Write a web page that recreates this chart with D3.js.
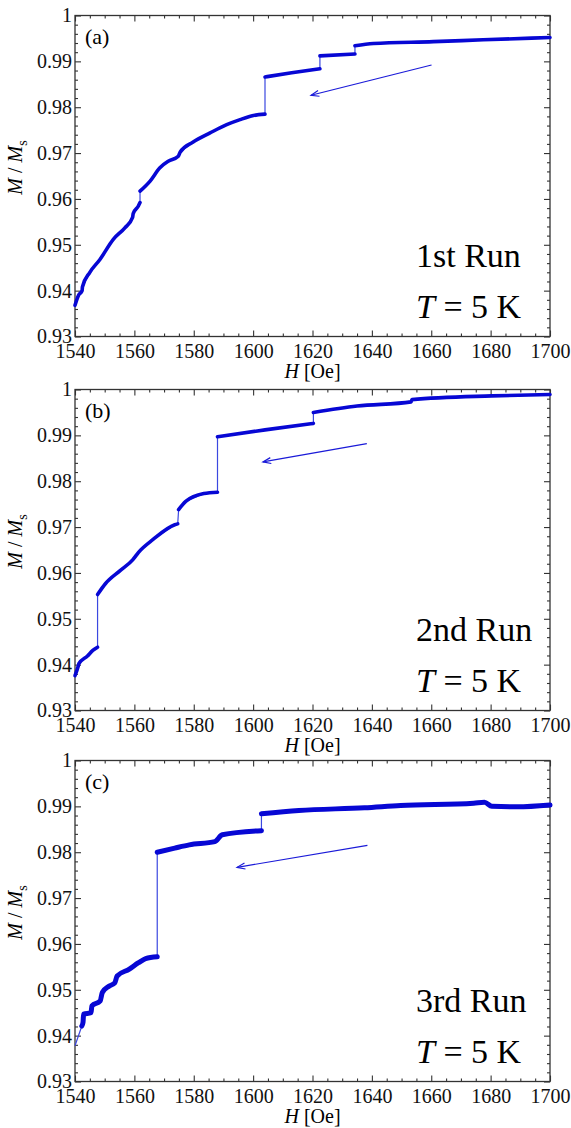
<!DOCTYPE html>
<head>
    <meta charset="utf-8">
    <script src="https://d3js.org/d3.v7.min.js"></script>
    <style>
        body {
            margin: 0;
            background: #fff;
        }
        .tick line {
            stroke: #333;
            stroke-width: 1.1px;
        }
        .frame {
            fill: none;
            stroke: #333;
            stroke-width: 1.3px;
        }
        .thin {
            fill: none;
            stroke: #3b48e0;
            stroke-width: 1.2px;
        }
        .thick {
            fill: none;
            stroke: #0707d4;
            stroke-linejoin: round;
            stroke-linecap: round;
        }
        .arrow {
            stroke: #1a1ad8;
            stroke-width: 1.2px;
            fill: none;
        }
    </style>
</head>

<body>
<div id="vis"></div>

<script>
    var W = 571, H = 1128;
    var margin = {left: 75},
        width = 475,
        height = 321;
    var serif = "'Liberation Serif', 'Times New Roman', Times, 'DejaVu Serif', serif";

    var panelTops = [15.5, 389.5, 760.5];

    // tick labels
    var xMajor = [1540, 1560, 1580, 1600, 1620, 1640, 1660, 1680, 1700];
    var yMajor = [0.93, 0.94, 0.95, 0.96, 0.97, 0.98, 0.99, 1];

    var panelTags = ["(a)", "(b)", "(c)"];
    var runNames = ["1st Run", "2nd Run", "3rd Run"];

    ////////// data: segments of [H, M/Ms], jumps between segments //////////

    var run1 = [
        [[1540, 0.9368], [1541.2, 0.9390], [1542.4, 0.9400], [1542.5, 0.9408], [1545, 0.9440],
         [1548.4, 0.9468], [1552.9, 0.9512], [1556.8, 0.9537], [1559.4, 0.9560], [1559.6, 0.9568],
         [1561.3, 0.9584], [1561.9, 0.9592]],
        [[1561.9, 0.9617], [1565.3, 0.9639], [1568.6, 0.9668], [1571.4, 0.9682], [1574.8, 0.9693],
         [1575.4, 0.9702], [1579.8, 0.9724], [1585.5, 0.9744], [1591.1, 0.9762], [1595.6, 0.9773],
         [1600.1, 0.9782], [1604, 0.9785]],
        [[1604, 0.9866], [1613, 0.9875], [1622.5, 0.9884]],
        [[1622.5, 0.9912], [1634.3, 0.9916]],
        [[1634.3, 0.9934], [1640.5, 0.9939], [1660.7, 0.9943], [1677.5, 0.9947], [1700, 0.9952]]
    ];

    var run2 = [
        [[1540, 0.9376], [1541.1, 0.9397], [1541.3, 0.9402], [1544.2, 0.9419], [1546, 0.9431],
         [1547.6, 0.9438]],
        [[1547.6, 0.9553], [1550.3, 0.9577], [1555.2, 0.9605], [1559.5, 0.9629], [1561.4, 0.9645],
         [1566.3, 0.9673], [1573.6, 0.9705], [1574.6, 0.9707]],
        [[1574.9, 0.9738], [1577.3, 0.9756], [1583.4, 0.9773], [1588, 0.9776]],
        [[1588, 0.9897], [1604, 0.9912], [1620.3, 0.9926]],
        [[1620.3, 0.9950], [1635, 0.9964], [1653.2, 0.9973], [1653.5, 0.9978], [1680.4, 0.9986],
         [1700, 0.9989]]
    ];

    var run3 = [
        [[1540, 0.9378]],
        [[1542.3, 0.9421], [1542.7, 0.9429], [1542.9, 0.9447], [1545.4, 0.9450], [1545.7, 0.9465],
         [1548.5, 0.9476], [1549.2, 0.9494], [1551.5, 0.9508], [1553.4, 0.9515], [1554.2, 0.9530],
         [1558.3, 0.9545], [1561.4, 0.9559], [1563.8, 0.9568], [1567.7, 0.9572]],
        [[1567.7, 0.9800], [1573.6, 0.9809], [1578.5, 0.9816], [1587.1, 0.9823], [1589.6, 0.9838],
         [1602.8, 0.9847]],
        [[1602.8, 0.9884], [1615.4, 0.9891], [1637.5, 0.9897], [1649.7, 0.9902], [1674.3, 0.9907],
         [1677.9, 0.9909], [1680.4, 0.9900], [1689, 0.9899], [1700, 0.9903]]
    ];

    var runs = [run1, run2, run3];
    var lineWidths = [3.6, 3.6, 5];

    // arrows [H, M] start -> end
    var arrows = [
        [[1660.1, 0.9892], [1619.5, 0.9826]],
        [[1638.3, 0.9882], [1603.3, 0.9842]],
        [[1638.5, 0.9815], [1594.6, 0.9767]]
    ];


    var x = d3.scaleLinear()
        .domain([1540, 1700])
        .range([0, width]);

    var y = d3.scaleLinear()
        .domain([0.93, 1])
        .range([height, 0]);

    var xMinor = d3.range(1545, 1700, 5).filter(function(d) { return d % 20 !== 0; });
    var yMinor = d3.range(0, 35).map(function(i) { return 0.93 + i * 0.002; })
        .filter(function(d, i) { return i % 5 !== 0; });

    var svg = d3.select("#vis")
        .append("svg")
        .attr("width", W)
        .attr("height", H)
        .style("font-family", serif);

    svg.append("defs").append("marker")
        .attr("id", "head")
        .attr("markerUnits", "userSpaceOnUse")
        .attr("markerWidth", 20)
        .attr("markerHeight", 20)
        .attr("viewBox", "-10 -10 20 20")
        .attr("refX", 0)
        .attr("refY", 0)
        .attr("orient", "auto")
        .append("path")
        .attr("d", "M-8,-3L0,0L-8,3")
        .attr("fill", "none")
        .attr("stroke", "#1a1ad8")
        .attr("stroke-width", 1.2);

    var line = d3.line()
        .x(function(d) { return x(d[0]); })
        .y(function(d) { return y(d[1]); });

    var smooth = d3.line()
        .curve(d3.curveMonotoneX)
        .x(function(d) { return x(d[0]); })
        .y(function(d) { return y(d[1]); });

    var fmtY = function(d) { return d === 1 ? "1" : d.toFixed(2); };

    function styleLabels(a) {
        a.attr("font-family", null);
        a.selectAll("text")
            .attr("font-size", 20)
            .attr("fill", "#111")
            .style("font-family", serif);
    }

    panelTops.forEach(function(top, p) {
        var g = svg.append("g")
            .attr("transform", "translate(" + margin.left + "," + top + ")");

        // axes, ticks inward
        g.append("g").attr("transform", "translate(0," + height + ")")
            .call(d3.axisBottom(x).tickValues(xMajor).tickSize(-6).tickPadding(7).tickFormat(d3.format("d")))
            .call(styleLabels);
        g.append("g").attr("transform", "translate(0," + height + ")")
            .call(d3.axisBottom(x).tickValues(xMinor).tickSize(-3).tickFormat(""));
        g.append("g")
            .call(d3.axisTop(x).tickValues(xMajor).tickSize(-6).tickFormat(""));
        g.append("g")
            .call(d3.axisTop(x).tickValues(xMinor).tickSize(-3).tickFormat(""));

        g.append("g")
            .call(d3.axisLeft(y).tickValues(yMajor).tickSize(-6).tickPadding(3).tickFormat(fmtY))
            .call(styleLabels);
        g.append("g")
            .call(d3.axisLeft(y).tickValues(yMinor).tickSize(-3).tickFormat(""));
        g.append("g").attr("transform", "translate(" + width + ",0)")
            .call(d3.axisRight(y).tickValues(yMajor).tickSize(-6).tickFormat(""));
        g.append("g").attr("transform", "translate(" + width + ",0)")
            .call(d3.axisRight(y).tickValues(yMinor).tickSize(-3).tickFormat(""));

        g.selectAll(".domain").remove();

        g.append("rect")
            .attr("class", "frame")
            .attr("width", width)
            .attr("height", height);

        // data
        var segs = runs[p];
        var all = [].concat.apply([], segs);
        g.append("path")
            .attr("class", "thin")
            .attr("d", line(all));
        g.selectAll(".thick")
            .data(segs.filter(function(s) { return s.length > 1; }))
            .enter()
            .append("path")
            .attr("class", "thick")
            .attr("stroke-width", lineWidths[p])
            .attr("d", smooth);

        // arrow
        var ar = arrows[p];
        g.append("line")
            .attr("class", "arrow")
            .attr("x1", x(ar[0][0])).attr("y1", y(ar[0][1]))
            .attr("x2", x(ar[1][0])).attr("y2", y(ar[1][1]))
            .attr("marker-end", "url(#head)");

        // labels
        g.append("text")
            .attr("x", 10)
            .attr("y", 28.5)
            .attr("font-size", 22)
            .style("font-family", serif)
            .text(panelTags[p]);

        g.append("text")
            .attr("x", 341)
            .attr("y", 251)
            .attr("font-size", 34)
            .style("font-family", serif)
            .text(runNames[p]);

        var t = g.append("text")
            .attr("x", 341)
            .attr("y", 302)
            .attr("font-size", 34)
            .style("font-family", serif);
        t.append("tspan").attr("font-style", "italic").text("T");
        t.append("tspan").text(" = 5 K");

        var xl = g.append("text")
            .attr("x", width / 2)
            .attr("y", height + 41)
            .attr("text-anchor", "middle")
            .attr("font-size", 20)
            .style("font-family", serif);
        xl.append("tspan").attr("font-style", "italic").text("H");
        xl.append("tspan").text(" [Oe]");

        var yl = g.append("text")
            .attr("transform", "translate(" + (-53) + "," + 152 + ") rotate(-90)")
            .attr("text-anchor", "middle")
            .attr("font-size", 20)
            .style("font-family", serif);
        yl.append("tspan").attr("font-style", "italic").text("M");
        yl.append("tspan").text(" / ");
        yl.append("tspan").attr("font-style", "italic").text("M");
        yl.append("tspan").attr("font-size", 14).attr("dy", 5).text("s");
    });

</script>
</body>
